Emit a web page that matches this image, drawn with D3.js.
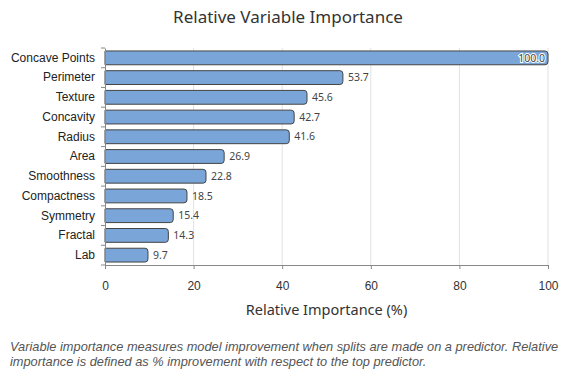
<!DOCTYPE html>
<html>
<head>
<meta charset="utf-8">
<script src="https://cdn.jsdelivr.net/npm/d3@7"></script>
<style>
  body { margin: 0; background: #fff; }
  svg { display: block; font-family: "Noto Sans", "Open Sans", sans-serif; }
</style>
</head>
<body>
<svg id="chart" width="576" height="384"></svg>
<script>
var variables = ["Concave Points", "Perimeter", "Texture", "Concavity", "Radius", "Area",
  "Smoothness", "Compactness", "Symmetry", "Fractal", "Lab"];
var importance = [100.0, 53.7, 45.6, 42.7, 41.6, 26.9, 22.8, 18.5, 15.4, 14.3, 9.7];
var xTicks = [0, 20, 40, 60, 80, 100];
var footnote = [
  "Variable importance measures model improvement when splits are made on a predictor. Relative",
  "importance is defined as % improvement with respect to the top predictor."
];

var svg = d3.select("#chart");
var margin = {left: 105, right: 28, top: 48, bottom: 119};
var width = 576 - margin.left - margin.right;
var height = 384 - margin.top - margin.bottom;

var x = d3.scaleLinear().domain([0, 100]).range([0, width]);
var y = d3.scaleBand().domain(variables).range([0, height]).paddingInner(0.3).paddingOuter(0.15);

svg.append("text")
  .attr("x", 288).attr("y", 23)
  .attr("text-anchor", "middle")
  .attr("font-size", 17)
  .attr("fill", "#333")
  .text("Relative Variable Importance");

var g = svg.append("g").attr("transform", "translate(" + margin.left + "," + margin.top + ")");

// vertical grid
g.selectAll(".grid").data(xTicks.slice(1)).enter().append("line")
  .attr("x1", function(d) { return x(d); }).attr("x2", function(d) { return x(d); })
  .attr("y1", 0).attr("y2", height)
  .attr("stroke", "#e2e2e2").attr("stroke-width", 1);

// bars, rounded on the right end only
function barPath(d) {
  var x0 = x(0), x1 = x(d.v), y0 = y(d.name), h = y.bandwidth(), r = 3;
  return "M" + x0 + "," + y0 + "H" + (x1 - r) + "Q" + x1 + "," + y0 + " " + x1 + "," + (y0 + r) +
    "V" + (y0 + h - r) + "Q" + x1 + "," + (y0 + h) + " " + (x1 - r) + "," + (y0 + h) + "H" + x0 + "Z";
}
var data = variables.map(function(n, i) { return {name: n, v: importance[i]}; });

g.selectAll(".bar").data(data).enter().append("path")
  .attr("d", barPath)
  .attr("fill", "#7aa5d8")
  .attr("stroke", "#444")
  .attr("stroke-width", 1);

// value labels
g.selectAll(".val").data(data).enter().append("text")
  .attr("x", function(d) { return d.v > 90 ? x(d.v) - 3 : x(d.v) + 5; })
  .attr("y", function(d) { return y(d.name) + y.bandwidth() / 2; })
  .attr("dy", "0.35em")
  .attr("text-anchor", function(d) { return d.v > 90 ? "end" : "start"; })
  .attr("font-size", 10.5)
  .attr("fill", "#444")
  .attr("stroke", function(d) { return d.v > 90 ? "#fff" : "none"; })
  .attr("stroke-width", 2)
  .attr("paint-order", "stroke")
  .text(function(d) { return d.v.toFixed(1); });

// y axis
var yAxis = g.append("g").call(d3.axisLeft(y).tickSize(0).tickPadding(10));
yAxis.select(".domain").attr("stroke", "#888");
yAxis.selectAll("text").attr("font-size", 12).attr("fill", "#222");
var bounds = d3.range(variables.length + 1).map(function(i) { return i * height / variables.length; });
g.selectAll(".ytick").data(bounds).enter().append("line")
  .attr("x1", -4).attr("x2", 0)
  .attr("y1", function(d) { return d; }).attr("y2", function(d) { return d; })
  .attr("stroke", "#888");

// x axis
var xAxis = g.append("g").attr("transform", "translate(0," + height + ")")
  .call(d3.axisBottom(x).tickValues(xTicks).tickSize(4).tickSizeOuter(0).tickPadding(12));
xAxis.select(".domain").attr("stroke", "#888");
xAxis.selectAll(".tick line").attr("stroke", "#888");
xAxis.selectAll("text").attr("font-size", 12).attr("fill", "#333");

svg.append("text")
  .attr("x", margin.left + width / 2).attr("y", 315)
  .attr("text-anchor", "middle")
  .attr("font-size", 14.5)
  .attr("fill", "#333")
  .text("Relative Importance (%)");

// footnote: Liberation Sans keeps the line box under the line spacing
var foot = svg.append("g").selectAll("text").data(footnote).enter().append("text")
  .attr("x", 10).attr("y", function(d, i) { return 351 + i * 15; })
  .attr("font-family", "'Liberation Sans', Arial, sans-serif")
  .attr("font-size", 12)
  .attr("font-style", "italic")
  .attr("fill", "#555")
  .text(function(d) { return d; });
var w0 = foot.node().getComputedTextLength();
var fs = Math.min(12.8, 12 * 555 / w0);
foot.attr("font-size", fs);
</script>
</body>
</html>
